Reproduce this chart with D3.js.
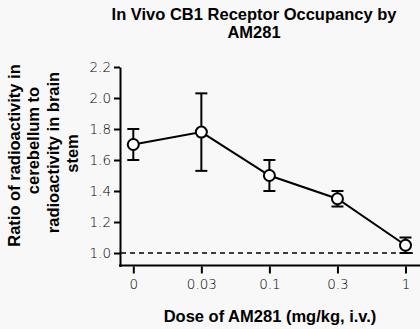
<!DOCTYPE html>
<html>
<head>
<meta charset="utf-8">
<script src="https://cdn.jsdelivr.net/npm/d3@7"></script>
<style>
  html, body { margin: 0; padding: 0; background: #f8f8f8; }
  svg { display: block; }
  .tick text { font-family: 'DejaVu Sans ExtraLight', 'DejaVu Sans', sans-serif; font-weight: 200; font-size: 13.5px; fill: #000; }
</style>
</head>
<body>
<div id="container"></div>
<script>
const doses = ["0", "0.03", "0.1", "0.3", "1"];
const means = [1.70, 1.78, 1.50, 1.35, 1.05];
const errs = [0.10, 0.25, 0.10, 0.05, 0.05];
const yTicks = [1.0, 1.2, 1.4, 1.6, 1.8, 2.0, 2.2];
const titleLines = ["In Vivo CB1 Receptor Occupancy by", "AM281"];
const yLabelLines = ["Ratio of radioactivity in", "cerebellum to", "radioactivity in brain", "stem"];
const xLabel = "Dose of AM281 (mg/kg, i.v.)";

const width = 420;
const height = 329;
const boldFont = "'Liberation Sans', Arial, sans-serif";

const svg = d3.create("svg")
    .attr("width", width)
    .attr("height", height);

svg.append("rect")
    .attr("width", width)
    .attr("height", height)
    .attr("fill", "#f8f8f8");

const x = d3.scalePoint()
    .domain(doses)
    .range([133.3, 405.5]);

const y = d3.scaleLinear()
    .domain([0.913, 2.2])
    .range([266.5, 67]);

// y axis
const yAxis = svg.append("g")
    .attr("transform", "translate(120,0)")
    .call(d3.axisLeft(y).tickValues(yTicks).tickSize(6).tickSizeOuter(0).tickPadding(3)
        .tickFormat(d3.format(".1f")));
yAxis.select(".domain").attr("stroke-width", 2).attr("stroke", "#000");
yAxis.selectAll(".tick line").attr("stroke-width", 2).attr("stroke", "#000");

// x axis (line runs to the right edge)
svg.append("line")
    .attr("x1", 119)
    .attr("x2", width)
    .attr("y1", y(0.913) - 1)
    .attr("y2", y(0.913) - 1)
    .attr("stroke", "#000")
    .attr("stroke-width", 2);

const xAxis = svg.append("g")
    .attr("transform", `translate(0,${y(0.913)})`)
    .call(d3.axisBottom(x).tickSize(7).tickPadding(6));
xAxis.select(".domain").remove();
xAxis.selectAll(".tick line").attr("stroke-width", 2).attr("stroke", "#000");

// reference line at 1.0
svg.append("line")
    .attr("x1", 121)
    .attr("x2", 413)
    .attr("y1", y(1.0))
    .attr("y2", y(1.0))
    .attr("stroke", "#000")
    .attr("stroke-width", 1.5)
    .attr("stroke-dasharray", "5,4");

const points = doses.map((d, i) => ({dose: d, mean: means[i], err: errs[i]}));

// error bars
const bars = svg.append("g").selectAll("g")
    .data(points)
    .enter()
    .append("g");

bars.append("line")
    .attr("x1", d => x(d.dose))
    .attr("x2", d => x(d.dose))
    .attr("y1", d => y(d.mean + d.err))
    .attr("y2", d => y(d.mean - d.err))
    .attr("stroke", "#000")
    .attr("stroke-width", 2);

[1, -1].forEach(sign => {
    bars.append("line")
        .attr("x1", d => x(d.dose) - 6)
        .attr("x2", d => x(d.dose) + 6)
        .attr("y1", d => y(d.mean + sign * d.err))
        .attr("y2", d => y(d.mean + sign * d.err))
        .attr("stroke", "#000")
        .attr("stroke-width", 2);
});

svg.append("path")
    .datum(points)
    .attr("d", d3.line().x(d => x(d.dose)).y(d => y(d.mean)))
    .attr("fill", "none")
    .attr("stroke", "#000")
    .attr("stroke-width", 2);

svg.selectAll("circle.pt")
    .data(points)
    .enter()
    .append("circle")
    .attr("class", "pt")
    .attr("cx", d => x(d.dose))
    .attr("cy", d => y(d.mean))
    .attr("r", 5.5)
    .attr("fill", "#fff")
    .attr("stroke", "#000")
    .attr("stroke-width", 2);

// title
svg.selectAll("text.title")
    .data(titleLines)
    .enter()
    .append("text")
    .attr("class", "title")
    .attr("x", 254)
    .attr("y", (_, i) => 20 + i * 18)
    .attr("text-anchor", "middle")
    .attr("font-family", boldFont)
    .attr("font-weight", "bold")
    .attr("font-size", "16.5px")
    .text(d => d);

// x label
svg.append("text")
    .attr("x", 270)
    .attr("y", 322)
    .attr("text-anchor", "middle")
    .attr("font-family", boldFont)
    .attr("font-weight", "bold")
    .attr("font-size", "16.5px")
    .text(xLabel);

// y label
const yLabelCenters = [155.5, 140.5, 152.5, 153.5];
svg.selectAll("text.ylabel")
    .data(yLabelLines)
    .enter()
    .append("text")
    .attr("class", "ylabel")
    .attr("transform", (_, i) => `translate(${20 + i * 19.3},${yLabelCenters[i]}) rotate(-90)`)
    .attr("text-anchor", "middle")
    .attr("font-family", boldFont)
    .attr("font-weight", "bold")
    .attr("font-size", "16.5px")
    .text(d => d);

d3.select("#container").append(() => svg.node());
</script>
</body>
</html>
